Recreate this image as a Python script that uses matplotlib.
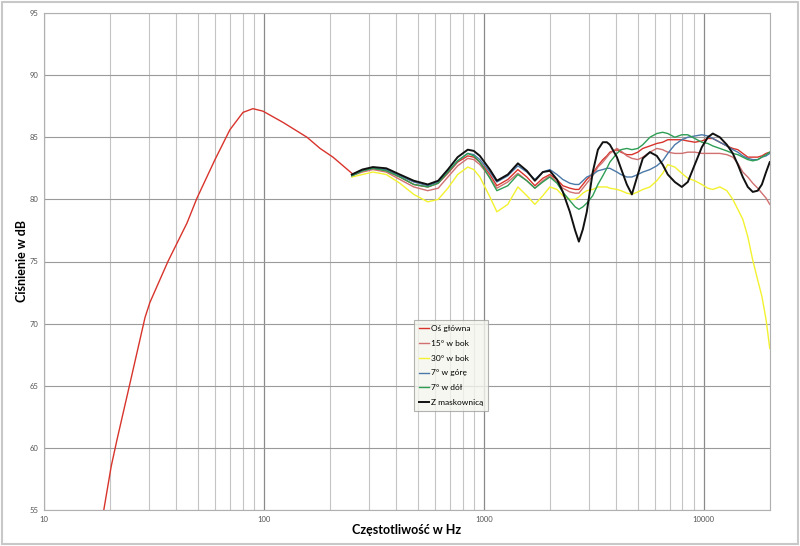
import matplotlib
matplotlib.use("Agg")
import matplotlib.pyplot as plt
from matplotlib.patches import Rectangle
from matplotlib.ticker import FixedLocator, NullFormatter

plt.rcParams['font.family'] = ['Lato', 'DejaVu Sans']

# low-frequency part, main axis only
freq_low = [18.7, 20.2, 21.5, 24.6, 28.8, 30.3, 36.6, 44.7, 49.6, 59.9, 70.0,
            80.3, 89.1, 99, 122, 157, 180, 206, 251]
db_low = [55.0, 58.5, 60.7, 65.2, 70.5, 71.7, 75.0, 78.1, 80.1, 83.2, 85.6,
          87.0, 87.3, 87.1, 86.2, 85.0, 84.1, 83.4, 82.1]

freq = [251, 280, 313, 360, 415, 480, 556, 620, 686, 760, 845, 900, 959, 1065,
        1146, 1285, 1428, 1568, 1706, 1854, 1995, 2150, 2286, 2460, 2600, 2704,
        2820, 2938, 3127, 3300, 3475, 3624, 3741, 4027, 4200, 4467, 4710, 5012,
        5281, 5689, 6114, 6500, 6860, 7382, 7943, 8457, 9100, 9795, 10430, 10990,
        11830, 12730, 13550, 14280, 15040, 15850, 16700, 17590, 18370, 19200, 19950]

os_glowna = [82.0, 82.3, 82.5, 82.3, 81.8, 81.2, 81.0, 81.3, 82.1, 83.0, 83.5, 83.4,
             83.0, 82.0, 81.1, 81.6, 82.4, 81.8, 81.1, 81.7, 82.0, 81.6, 81.1, 80.9,
             80.8, 80.8, 81.2, 81.6, 82.1, 82.7, 83.2, 83.5, 83.8, 84.0, 83.8, 83.6,
             83.6, 83.8, 84.1, 84.3, 84.5, 84.6, 84.8, 84.8, 84.8, 84.7, 84.6, 84.7,
             84.9, 84.9, 84.6, 84.3, 84.1, 84.0, 83.7, 83.4, 83.4, 83.4, 83.5, 83.7, 83.8]

bok15 = [81.9, 82.2, 82.4, 82.2, 81.6, 81.0, 80.7, 80.9, 81.8, 82.7, 83.3, 83.2,
         82.8, 81.8, 80.9, 81.4, 82.1, 81.5, 80.9, 81.5, 81.9, 81.4, 80.9, 80.6,
         80.5, 80.5, 80.9, 81.3, 81.9, 82.6, 83.0, 83.4, 83.7, 84.1, 83.9, 83.5,
         83.3, 83.2, 83.4, 83.8, 84.1, 84.0, 83.8, 83.7, 83.7, 83.8, 83.8, 83.7,
         83.7, 83.7, 83.7, 83.6, 83.4, 82.9, 82.2, 81.8, 81.3, 80.9, 80.5, 80.1, 79.6]

bok30 = [81.8, 82.0, 82.2, 82.0, 81.3, 80.4, 79.8, 80.0, 80.9, 82.0, 82.6, 82.4,
         81.8, 80.2, 79.0, 79.6, 81.0, 80.3, 79.6, 80.3, 81.0, 80.8, 80.3, 80.0,
         80.0, 80.2, 80.5, 80.7, 80.8, 81.0, 81.0, 81.0, 80.9, 80.8, 80.7, 80.5,
         80.4, 80.6, 80.8, 81.0, 81.5, 82.1, 82.8, 82.6, 82.1, 81.7, 81.5, 81.2,
         80.9, 80.8, 81.0, 80.7, 80.0, 79.2, 78.4, 77.0, 75.1, 73.5, 72.2, 70.3, 68.0]

gora7 = [81.9, 82.3, 82.5, 82.4, 81.9, 81.4, 81.1, 81.4, 82.2, 83.1, 83.7, 83.6,
         83.2, 82.2, 81.4, 81.9, 82.7, 82.2, 81.6, 82.2, 82.4, 82.0, 81.6, 81.3,
         81.2, 81.2, 81.5, 81.8, 82.0, 82.3, 82.4, 82.5, 82.5, 82.2, 82.0, 81.8,
         81.8, 82.0, 82.2, 82.4, 82.7, 83.1, 83.7, 84.4, 84.8, 85.0, 85.1, 85.2,
         85.1, 84.9, 84.6, 84.3, 84.0, 83.8, 83.5, 83.3, 83.2, 83.2, 83.4, 83.5, 83.7]

dol7 = [81.9, 82.3, 82.5, 82.3, 81.8, 81.2, 81.0, 81.3, 82.2, 83.1, 83.7, 83.5,
        83.0, 81.7, 80.7, 81.1, 82.0, 81.5, 80.9, 81.4, 81.8, 81.3, 80.6, 79.9,
        79.4, 79.2, 79.4, 79.7, 80.3, 81.2, 81.9, 82.5, 83.0, 83.7, 84.0, 84.1,
        84.0, 84.1, 84.4, 85.0, 85.3, 85.4, 85.3, 85.0, 85.2, 85.2, 84.9, 84.6,
        84.5, 84.3, 84.1, 83.9, 83.7, 83.6, 83.4, 83.2, 83.1, 83.2, 83.4, 83.6, 83.8]

maskownica = [82.0, 82.4, 82.6, 82.5, 82.0, 81.5, 81.2, 81.5, 82.4, 83.4, 84.0, 83.9,
              83.5, 82.4, 81.5, 82.0, 82.9, 82.3, 81.5, 82.2, 82.3, 81.6, 80.6, 79.0,
              77.5, 76.6, 77.6, 79.0, 82.2, 84.0, 84.6, 84.6, 84.4, 83.4, 82.5, 81.2,
              80.4, 82.0, 83.3, 83.8, 83.5, 82.8, 82.0, 81.4, 81.0, 81.4, 82.8, 84.2,
              85.0, 85.3, 85.0, 84.4, 83.7, 82.8, 81.8, 81.0, 80.6, 80.7, 81.2, 82.2, 83.0]

labels = ['Oś główna', '15° w bok', '30° w bok', '7° w górę', '7° w dół', 'Z maskownicą']
colors = ['#d8342c', '#d07070', '#f2f230', '#4a78a8', '#2e9e55', '#111111']
series = [os_glowna, bok15, bok30, gora7, dol7, maskownica]

fig = plt.figure(figsize=(8, 5.46), dpi=100)
ax = fig.add_axes([44 / 800, 36 / 546, 726 / 800, 497 / 546])
fig.patches.append(Rectangle((0.002, 0.003), 0.996, 0.994, transform=fig.transFigure,
                             fill=False, edgecolor='#c8c8c8', linewidth=1.5))

ax.plot(freq_low, db_low, color=colors[0], linewidth=1.0)
for vals, lab, col in zip(series, labels, colors):
    lw = 1.4 if lab == 'Z maskownicą' else 1.0
    ax.plot(freq, vals, color=col, linewidth=lw, label=lab)

ax.set_xscale('log')
ax.set_xlim(10, 20000)
ax.set_ylim(55, 95)
ax.set_yticks(range(55, 96, 5))
ax.xaxis.set_major_locator(FixedLocator([10, 100, 1000, 10000]))
minors = [m * d for d in (10, 100, 1000) for m in range(2, 10)] + [20000]
ax.xaxis.set_minor_locator(FixedLocator(minors))
ax.xaxis.set_minor_formatter(NullFormatter())
ax.set_xticklabels(['10', '100', '1000', '10000'])

ax.grid(True, which='major', axis='x', color='#8a8a8a', linewidth=0.9)
ax.grid(True, which='minor', axis='x', color='#c4c4c4', linewidth=0.8)
ax.grid(True, which='major', axis='y', color='#9a9a9a', linewidth=0.8)
ax.tick_params(which='both', length=0, labelsize=5.5, labelcolor='#555555', pad=4)
for sp in ax.spines.values():
    sp.set_color('#b0b0b0')
    sp.set_linewidth(0.8)

ax.set_xlabel('Częstotliwość w Hz', fontsize=9, fontweight='bold', labelpad=1)
ax.set_ylabel('Ciśnienie w dB', fontsize=9, fontweight='bold', labelpad=1)

leg = ax.legend(loc='upper left', bbox_to_anchor=(0.51, 0.382), fontsize=6,
                frameon=True, fancybox=False, handlelength=1.2, handletextpad=0.25,
                labelspacing=0.95, borderpad=0.55, borderaxespad=0)
leg.get_frame().set_facecolor('#f5f5ee')
leg.get_frame().set_edgecolor('#a0a0a0')
leg.get_frame().set_linewidth(0.8)

fig.savefig('out.png', dpi=100)
